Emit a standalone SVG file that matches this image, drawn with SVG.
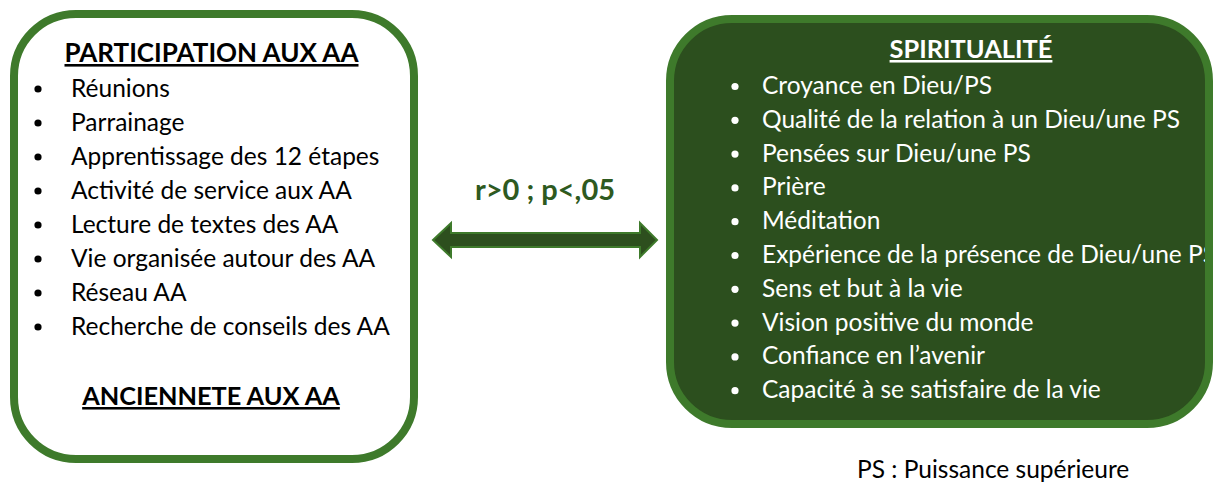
<svg xmlns="http://www.w3.org/2000/svg" width="1225" height="484" viewBox="0 0 1225 484">
<style>
.box{stroke:#3e7a2b;stroke-width:8;fill:none}
.t{font-family:Lato,"Open Sans",sans-serif;font-size:24.5px}
.h{font-family:Lato,"Open Sans",sans-serif;font-weight:bold;text-decoration:underline;text-anchor:middle}
.blk{fill:#000}
.wht{fill:#fff}
</style>
<rect width="1225" height="484" fill="#fff"/>
<g id="participation">
<rect x="14" y="14" width="400" height="445" rx="62" fill="#fff"/>
<rect class="box" x="14" y="14" width="400" height="445" rx="62"/>
<text class="h blk" x="211.5" y="62" font-size="26">PARTICIPATION AUX AA</text>
<g class="blk">
<circle cx="38" cy="89" r="3.6"/><circle cx="38" cy="123" r="3.6"/><circle cx="38" cy="157" r="3.6"/><circle cx="38" cy="191" r="3.6"/>
<circle cx="38" cy="225" r="3.6"/><circle cx="38" cy="259" r="3.6"/><circle cx="38" cy="293" r="3.6"/><circle cx="38" cy="327" r="3.6"/>
</g>
<text class="t blk" x="71" y="97">Réunions</text>
<text class="t blk" x="71" y="131">Parrainage</text>
<text class="t blk" x="71" y="165">Apprentissage des 12 étapes</text>
<text class="t blk" x="71" y="199">Activité de service aux AA</text>
<text class="t blk" x="71" y="233">Lecture de textes des AA</text>
<text class="t blk" x="71" y="267">Vie organisée autour des AA</text>
<text class="t blk" x="71" y="301">Réseau AA</text>
<text class="t blk" x="71" y="335">Recherche de conseils des AA</text>
<text class="h blk" x="211" y="405" font-size="25.3">ANCIENNETE AUX AA</text>
</g>
<g id="spiritualite">
<rect x="670" y="19" width="539" height="405" rx="62" fill="#2c4f1e"/>
<text class="h wht" x="971" y="58" font-size="25.4">SPIRITUALITÉ</text>
<g class="wht">
<circle cx="735" cy="86.5" r="3.6"/><circle cx="735" cy="120.3" r="3.6"/><circle cx="735" cy="154.1" r="3.6"/><circle cx="735" cy="187.9" r="3.6"/>
<circle cx="735" cy="221.7" r="3.6"/><circle cx="735" cy="255.5" r="3.6"/><circle cx="735" cy="289.3" r="3.6"/><circle cx="735" cy="323.1" r="3.6"/>
<circle cx="735" cy="356.9" r="3.6"/><circle cx="735" cy="390.7" r="3.6"/>
</g>
<text class="t wht" x="762" y="94">Croyance en Dieu/PS</text>
<text class="t wht" x="762" y="127.8">Qualité de la relation à un Dieu/une PS</text>
<text class="t wht" x="762" y="161.6">Pensées sur Dieu/une PS</text>
<text class="t wht" x="762" y="195.4">Prière</text>
<text class="t wht" x="762" y="229.2">Méditation</text>
<text class="t wht" x="762" y="263">Expérience de la présence de Dieu/une PS</text>
<text class="t wht" x="762" y="296.8">Sens et but à la vie</text>
<text class="t wht" x="762" y="330.6">Vision positive du monde</text>
<text class="t wht" x="762" y="364.4">Confiance en l’avenir</text>
<text class="t wht" x="762" y="398.2">Capacité à se satisfaire de la vie</text>
<rect class="box" x="670" y="19" width="539" height="405" rx="62"/>
</g>
<g id="connectors">
<polygon points="433,240 451,223 451,233 640,233 640,223 657,240 640,257 640,247 451,247 451,257" fill="#2d4f1e" stroke="#3e7a2b" stroke-width="2" stroke-linejoin="miter"/>
<text x="545" y="200" text-anchor="middle" font-family="Lato,'Open Sans',sans-serif" font-size="29" font-weight="bold" fill="#2e5a1f">r&gt;0 ; p&lt;,05</text>
</g>
<g id="note">
<text x="857" y="478" font-family="Lato,'Open Sans',sans-serif" font-size="24.5" fill="#000">PS : Puissance supérieure</text>
</g>
</svg>
